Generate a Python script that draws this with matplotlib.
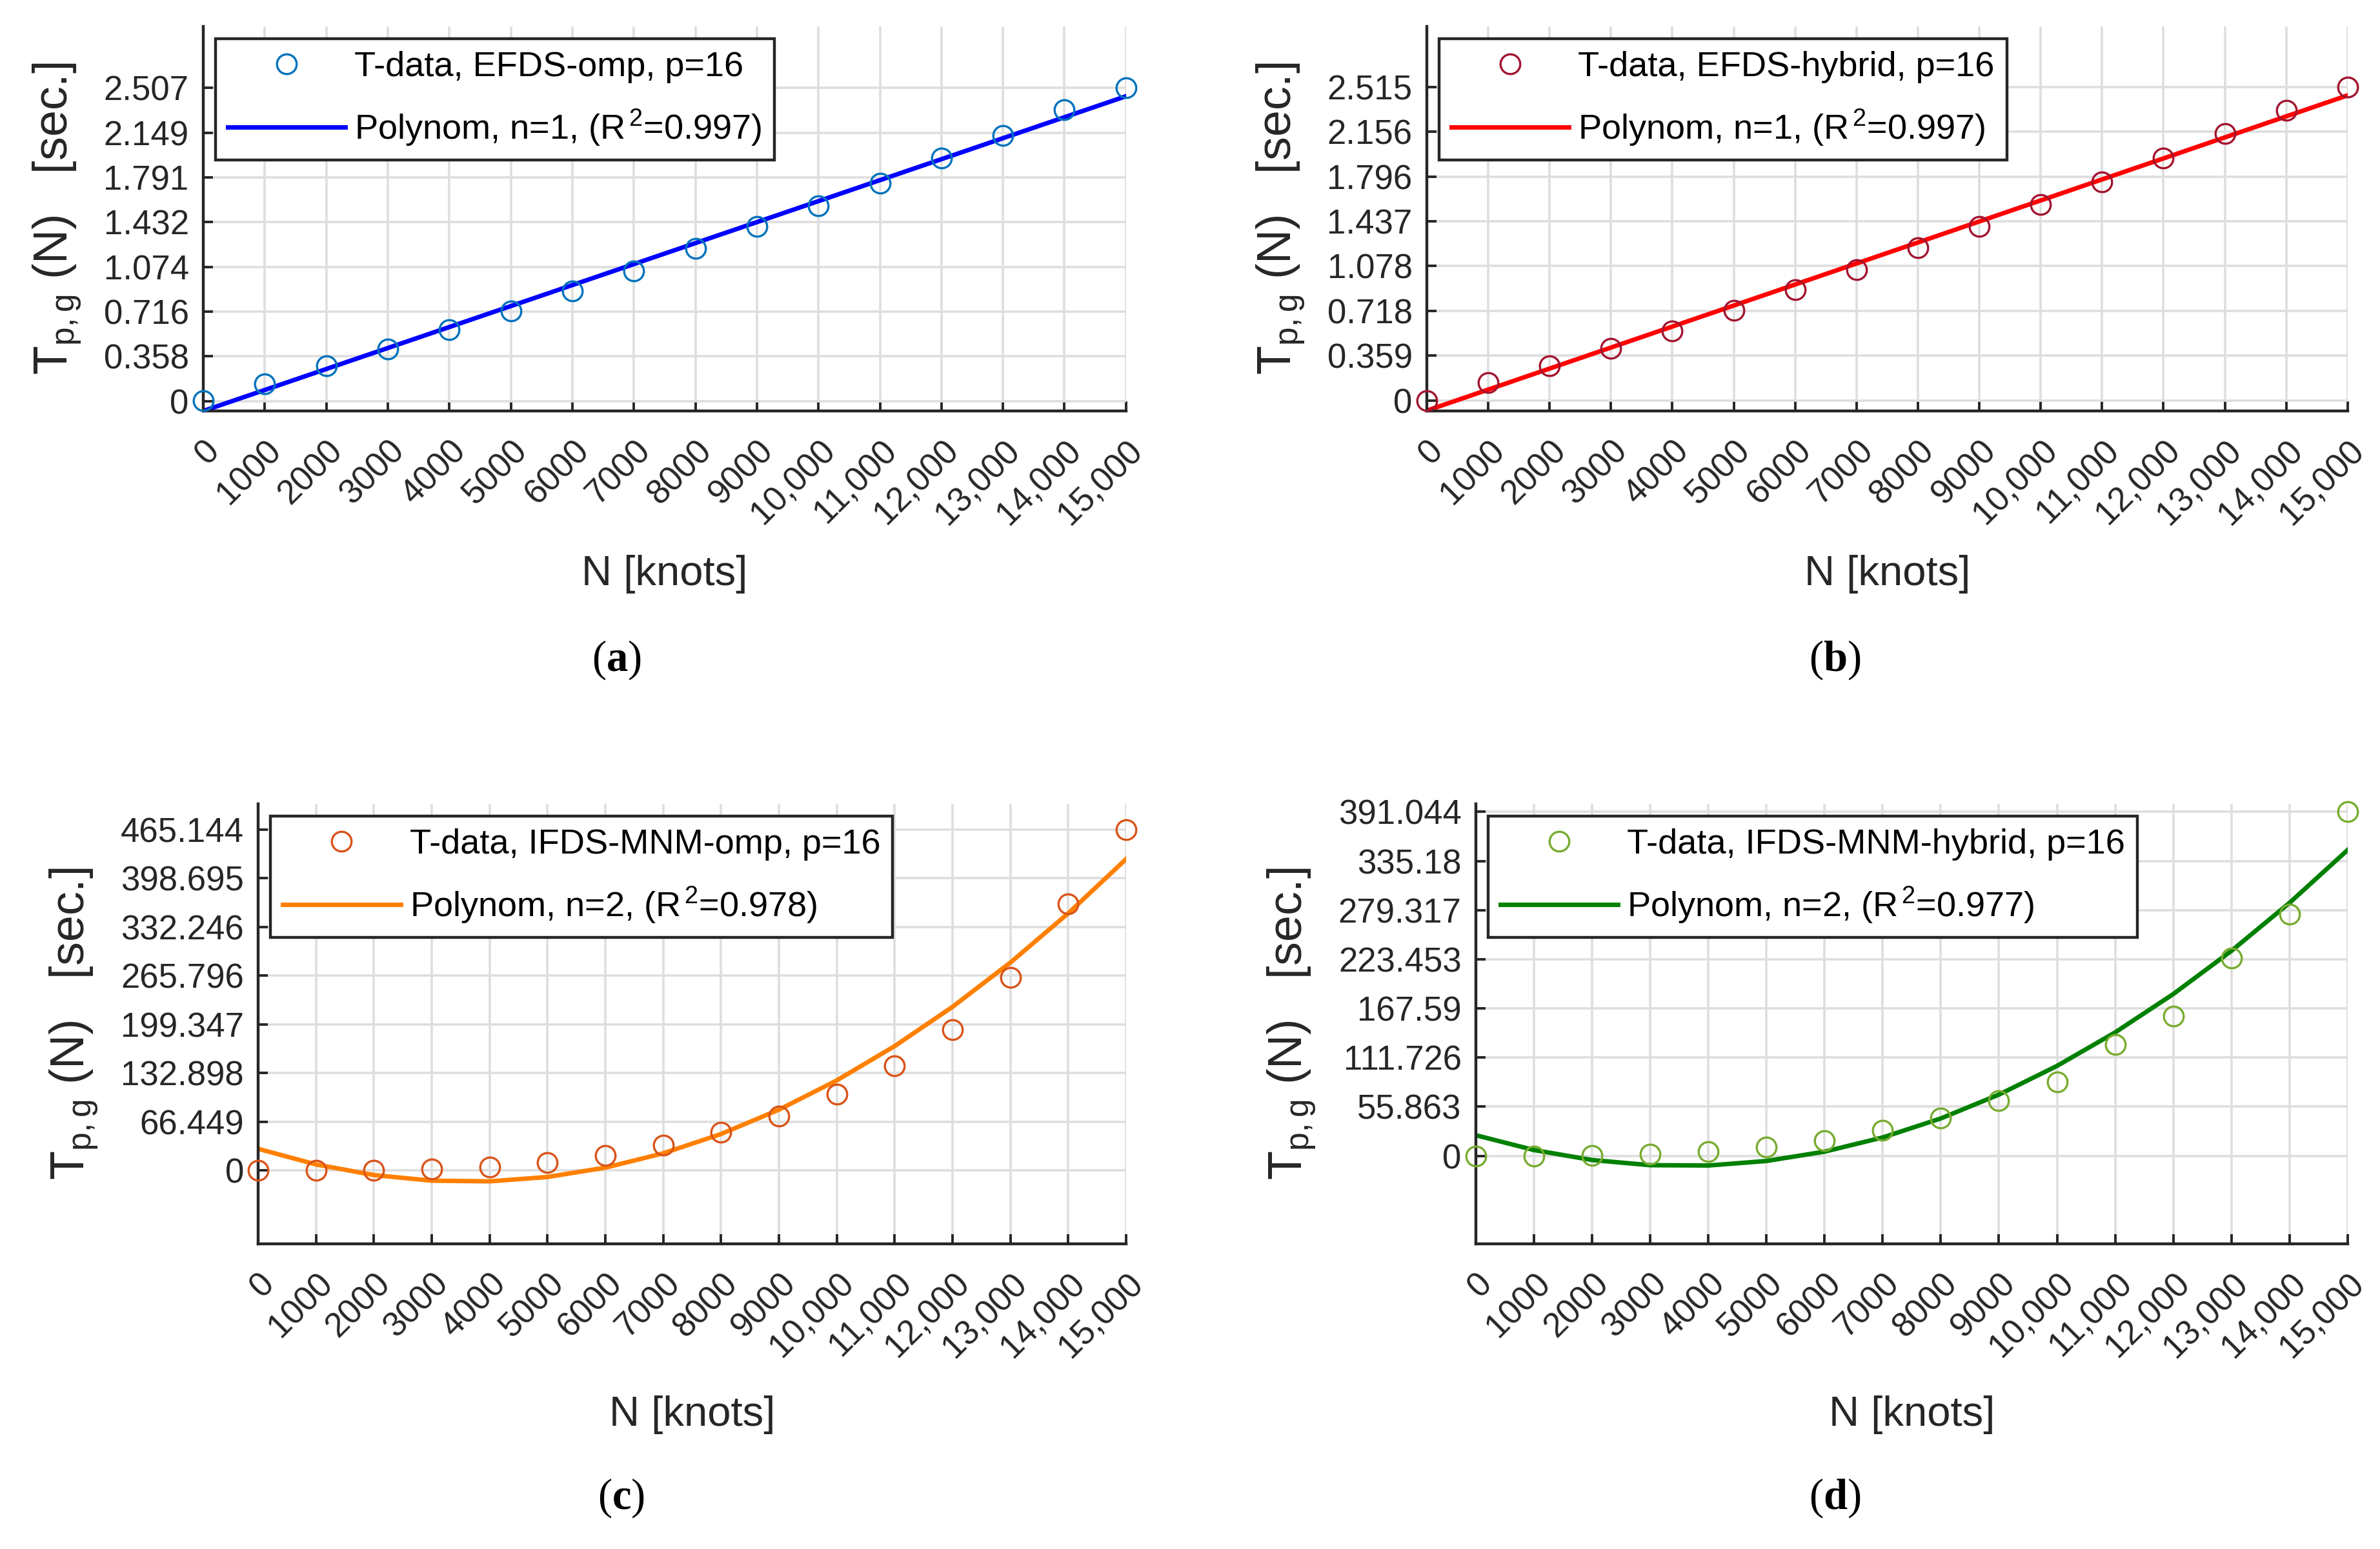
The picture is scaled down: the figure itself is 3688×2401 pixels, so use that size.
import numpy as np
import matplotlib
matplotlib.use("Agg")
from matplotlib import pyplot as plt
from matplotlib import transforms

plt.rcParams['font.family'] = ['Liberation Sans', 'DejaVu Sans']
plt.rcParams['mathtext.fontset'] = 'custom'
plt.rcParams['mathtext.rm'] = 'Liberation Sans'
plt.rcParams['mathtext.it'] = 'Liberation Sans:italic'
plt.rcParams['mathtext.bf'] = 'Liberation Serif:bold'

# data
N = [0, 1000, 2000, 3000, 4000, 5000, 6000, 7000, 8000, 9000,
     10000, 11000, 12000, 13000, 14000, 15000]
xtick_labels = ['0', '1000', '2000', '3000', '4000', '5000', '6000', '7000', '8000', '9000',
                '10,000', '11,000', '12,000', '13,000', '14,000', '15,000']

t_efds_omp = [0.004, 0.138, 0.280, 0.418, 0.570, 0.719, 0.879, 1.043, 1.221, 1.399,
              1.562, 1.744, 1.944, 2.129, 2.332, 2.50675]
t_efds_hybrid = [0.0, 0.141, 0.277, 0.416, 0.557, 0.724, 0.888, 1.050, 1.227, 1.393,
                 1.570, 1.751, 1.943, 2.143, 2.326, 2.51475]
t_ifds_omp = [0.0, 0.0, 0.3, 2.0, 4.7, 10.8, 20.9, 34.4, 51.9, 74.1,
              103.8, 142.9, 192.0, 263.5, 364.0, 465.1438]
t_ifds_hybrid = [0.0, 0.0, 0.5, 2.2, 4.5, 10.1, 17.4, 29.3, 42.8, 63.0,
                 84.4, 126.6, 158.7, 225.0, 275.0, 391.044]

ytick_a = ['0', '0.358', '0.716', '1.074', '1.432', '1.791', '2.149', '2.507']
ytick_b = ['0', '0.359', '0.718', '1.078', '1.437', '1.796', '2.156', '2.515']
ytick_c = ['0', '66.449', '132.898', '199.347', '265.796', '332.246', '398.695', '465.144']
ytick_d = ['0', '55.863', '111.726', '167.59', '223.453', '279.317', '335.18', '391.044']

labels_data = ['T-data, EFDS-omp, p=16', 'T-data, EFDS-hybrid, p=16',
               'T-data, IFDS-MNM-omp, p=16', 'T-data, IFDS-MNM-hybrid, p=16']
labels_fit = [r'Polynom, n=1, (R$^{\,2}$=0.997)', r'Polynom, n=1, (R$^{\,2}$=0.997)',
              r'Polynom, n=2, (R$^{\,2}$=0.978)', r'Polynom, n=2, (R$^{\,2}$=0.977)']
degrees = [1, 1, 2, 2]
captions = ['a', 'b', 'c', 'd']
ylims = [(-0.08, 3.0), (-0.085, 3.0), (-100, 500), (-100, 400)]

marker_colors = ['#0072BD', '#A2142F', '#D95319', '#77AC30']
line_colors = ['#0000FF', '#FF0000', '#FF8000', '#008000']

# axes rectangles [left, bottom, width, height] in figure fraction
rects = [[0.0854, 0.7347, 0.3877, 0.2482],
         [0.5995, 0.7347, 0.3869, 0.2482],
         [0.1085, 0.197, 0.3647, 0.284],
         [0.6201, 0.197, 0.3663, 0.284]]
xlab_y = [0.6418, 0.6418, 0.0991, 0.0991]
cap_pos = [(0.259, 0.574), (0.771, 0.574), (0.261, 0.033), (0.771, 0.033)]

fig = plt.figure(figsize=(18.44, 12.005), dpi=200)
series = [t_efds_omp, t_efds_hybrid, t_ifds_omp, t_ifds_hybrid]
yticklabels = [ytick_a, ytick_b, ytick_c, ytick_d]
dark = '#262626'

for i, y in enumerate(series):
    ax = fig.add_axes(rects[i])
    x = np.array(N, dtype=float)
    y = np.array(y)
    p = np.polyfit(x, y, degrees[i])
    yfit = np.polyval(p, x)

    ax.plot(x, y, 'o', mfc='none', mec=marker_colors[i], ms=11, mew=1.2,
            label=labels_data[i], zorder=3, clip_on=False)
    ax.plot(x, yfit, '-', color=line_colors[i], lw=2.5, label=labels_fit[i], zorder=2)

    ax.set_xlim(0, 15000)
    ax.set_ylim(*ylims[i])
    ax.set_xticks(N)
    ax.set_xticklabels(xtick_labels, rotation=45, ha='right', va='top',
                       rotation_mode='anchor')
    ax.set_yticks(np.linspace(0, y.max(), 8))
    ax.set_yticklabels(yticklabels[i])
    ax.tick_params(direction='in', length=5.4, width=1.4, labelsize=19, colors=dark)
    ax.tick_params(axis='y', pad=8)
    ax.tick_params(axis='x', pad=13)
    ax.grid(True, color='#DEDEDE', lw=1.3)
    ax.set_axisbelow(True)
    for s in ['top', 'right']:
        ax.spines[s].set_visible(False)
    for s in ['left', 'bottom']:
        ax.spines[s].set_color(dark)
        ax.spines[s].set_linewidth(1.6)

    ax.set_xlabel('N [knots]', fontsize=23.5, color=dark)
    ax.xaxis.set_label_coords(0.5, xlab_y[i],
                              transform=transforms.blended_transform_factory(ax.transAxes,
                                                                             fig.transFigure))
    ax.set_ylabel(r'T$_{\mathrm{p,g}}$ (N)   [sec.]', fontsize=26.5, color=dark,
                  labelpad=11)

    leg = ax.legend(loc='upper left', fontsize=19.5, handlelength=3.37, handletextpad=0.26,
                    labelspacing=0.7, borderpad=0.35, borderaxespad=0.35,
                    fancybox=False, framealpha=1)
    leg.get_frame().set_edgecolor(dark)
    leg.get_frame().set_linewidth(1.6)
    for t in leg.get_texts():
        t.set_color('black')

    fig.text(cap_pos[i][0], cap_pos[i][1], r'($\mathbf{%s}$)' % captions[i],
             family='Liberation Serif', fontsize=24, ha='center', va='center')

fig.savefig('out.png', dpi=200, facecolor='white')
